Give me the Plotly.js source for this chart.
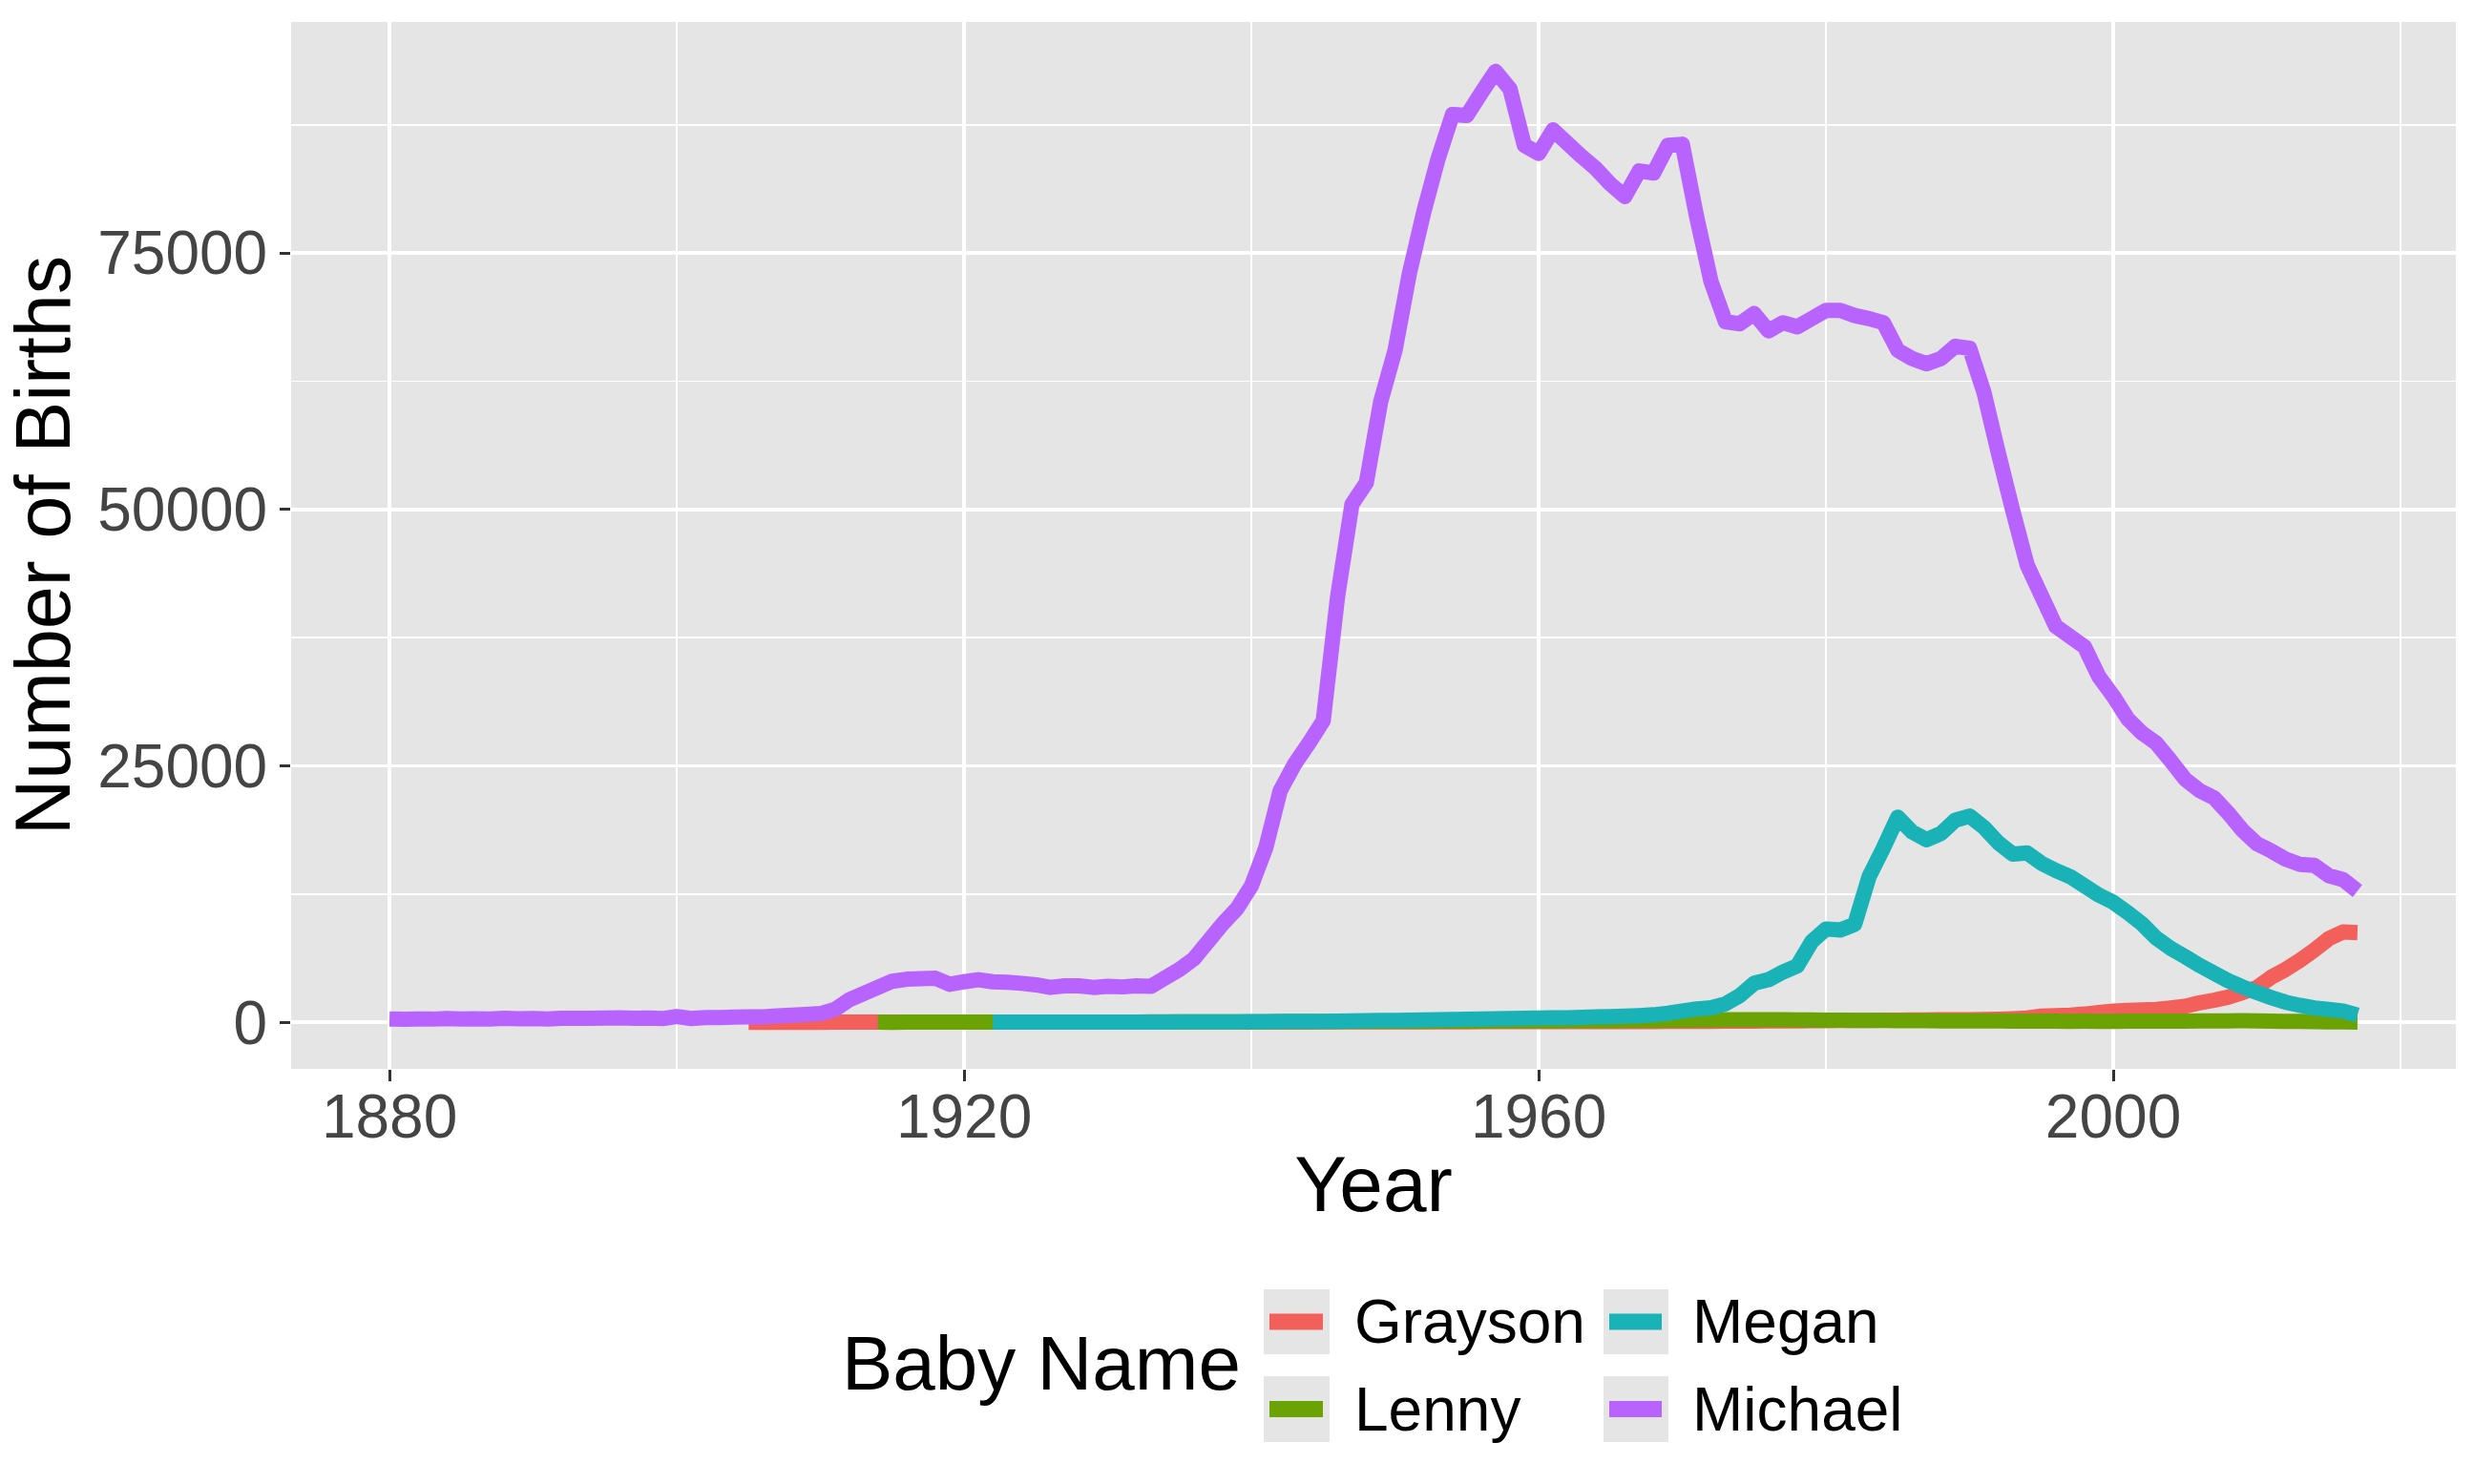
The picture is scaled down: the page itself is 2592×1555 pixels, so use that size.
<!DOCTYPE html>
<html>
<head>
<meta charset="utf-8">
<script src="https://cdn.plot.ly/plotly-3.0.1.min.js"></script>
<style>html,body{margin:0;padding:0;background:#fff;}</style>
</head>
<body>
<div id="chart" style="width:2592px;height:1555px;"></div>
<script>
// ---------------- DATA ----------------
const years = [
1880,1881,1882,1883,1884,1885,1886,1887,1888,1889,
1890,1891,1892,1893,1894,1895,1896,1897,1898,1899,
1900,1901,1902,1903,1904,1905,1906,1907,1908,1909,
1910,1911,1912,1913,1914,1915,1916,1917,1918,1919,
1920,1921,1922,1923,1924,1925,1926,1927,1928,1929,
1930,1931,1932,1933,1934,1935,1936,1937,1938,1939,
1940,1941,1942,1943,1944,1945,1946,1947,1948,1949,
1950,1951,1952,1953,1954,1955,1956,1957,1958,1959,
1960,1961,1962,1963,1964,1965,1966,1967,1968,1969,
1970,1971,1972,1973,1974,1975,1976,1977,1978,1979,
1980,1981,1982,1983,1984,1985,1986,1987,1988,1989,
1990,1991,1992,1993,1994,1995,1996,1997,1998,1999,
2000,2001,2002,2003,2004,2005,2006,2007,2008,2009,
2010,2011,2012,2013,2014,2015,2016,2017];

// Grayson: 1905-2017
const grayson = [
5,5,6,5,7,6,8,8,10,12,12,14,13,15,14,
16,15,18,17,16,18,17,16,15,16,
14,15,13,14,15,16,15,17,18,20,
22,24,28,30,28,31,35,40,38,36,
40,42,45,48,50,53,55,58,55,60,
62,65,60,58,62,60,65,70,75,80,
85,92,95,102,110,118,125,132,140,152,
160,172,180,188,200,212,220,232,240,250,
260,280,300,350,420,600,650,700,800,950,
1100,1150,1200,1250,1400,1560,1900,2150,2450,2900,
3400,4400,5150,6050,7050,8150,8800,8750];

// Lenny: 1914-2017
const lenny = [
8,7,10,9,12,11,
14,15,17,18,20,19,22,24,25,27,
28,30,29,32,34,36,38,41,42,45,
48,50,55,57,60,63,70,78,80,86,
90,96,100,104,110,116,120,124,131,135,
140,146,150,156,160,166,170,181,190,200,
210,222,230,241,250,262,250,240,232,220,
210,200,191,180,170,160,156,150,144,140,
135,130,126,120,115,110,105,100,101,99,
100,104,110,116,120,121,125,130,141,150,
140,121,100,80,61,40,31,25];

// Megan: 1922-2017
const megan = [
10,10,15,11,15,16,20,16,
20,21,25,24,30,31,35,40,45,50,
60,70,80,90,95,100,120,140,150,170,
180,200,230,250,270,290,310,340,360,390,
420,430,440,480,520,560,600,650,730,880,
1100,1300,1420,1800,2600,3800,4150,4900,5500,7850,
9100,9000,9550,14200,17000,20000,18550,17800,18400,19700,
20100,19000,17500,16400,16500,15500,14800,14200,13300,12400,
11700,10700,9600,8200,7200,6400,5550,4800,4050,3450,
2900,2400,1950,1650,1400,1250,1100,700];

// Michael: 1880-2017
const michael = [
330,300,330,310,370,330,350,320,400,350,
370,330,400,380,390,420,430,390,420,360,
560,370,450,460,510,520,530,620,690,760,
850,1250,2200,2800,3400,4000,4200,4250,4300,3700,
3950,4150,3950,3900,3800,3650,3400,3550,3550,3400,
3500,3450,3550,3500,4340,5160,6190,7890,9600,11090,
13300,17000,22550,25150,27200,29400,41500,50500,52600,60500,
65500,73000,79000,84200,88500,88400,90600,92700,91000,85500,
84700,87000,85700,84400,83200,81700,80500,83000,82800,85500,
85600,78500,72200,68300,68100,69100,67400,68200,67800,68600,
69400,69400,68900,68600,68200,65500,64700,64200,64700,65900,
65700,61400,55500,49900,44600,41600,38600,37600,36600,33700,
31800,29600,28200,27200,25500,23700,22600,21900,20400,18700,
17400,16700,15900,15400,15300,14300,13900,12800];

const seriesNames  = ["Grayson", "Lenny", "Megan", "Michael"];
const seriesValues = [grayson, lenny, megan, michael];
const seriesColors = ["#F3605B", "#6BA304", "#19B3B7", "#B963FF"];

const xTickVals = [1880, 1920, 1960, 2000];
const xTickText = ["1880", "1920", "1960", "2000"];
const xMinorVals = [1900, 1940, 1980, 2020];
const yTickVals = [0, 25000, 50000, 75000];
const yTickText = ["0", "25000", "50000", "75000"];
const yMinorVals = [12500, 37500, 62500, 87500];

const xTitle = "Year";
const yTitle = "Number of Births";
const legendTitle = "Baby Name";

// ---------------- LAYOUT CONSTANTS ----------------
const W = 2592, H = 1555;
const M = {l: 305, r: 19, t: 23, b: 435};
const PW = W - M.l - M.r, PH = H - M.t - M.b;
const FONT = "Liberation Sans, Arial, Helvetica, sans-serif";
const px2x = px => (px - M.l) / PW;
const px2y = py => (H - M.b - py) / PH;

// ---------------- TRACES ----------------
const traces = seriesNames.map((name, i) => ({
  type: "scatter",
  mode: "lines",
  name: name,
  x: years.slice(years.length - seriesValues[i].length),
  y: seriesValues[i],
  line: {color: seriesColors[i], width: 16, simplify: false},
  hoverinfo: "x+y+name",
  showlegend: false
}));

// ---------------- CUSTOM LEGEND (ggplot style) ----------------
const shapes = [];
const annotations = [];
const keyCols = [{box0: 1324, box1: 1393, text: 1417}, {box0: 1680, box1: 1748, text: 1771}];
const keyRows = [{y0: 1351, y1: 1419}, {y0: 1442, y1: 1511}];
// ggplot legend order: column-wise
seriesNames.forEach((name, i) => {
  const c = keyCols[Math.floor(i / 2)], r = keyRows[i % 2];
  const yc = (r.y0 + r.y1) / 2;
  shapes.push({type: "rect", xref: "paper", yref: "paper",
    x0: px2x(c.box0), x1: px2x(c.box1), y0: px2y(r.y1), y1: px2y(r.y0),
    fillcolor: "#E5E5E5", line: {width: 0}, layer: "above"});
  shapes.push({type: "line", xref: "paper", yref: "paper",
    x0: px2x(c.box0 + 6), x1: px2x(c.box1 - 7), y0: px2y(yc), y1: px2y(yc),
    line: {color: seriesColors[i], width: 17}, layer: "above"});
  annotations.push({xref: "paper", yref: "paper", x: px2x(c.text), y: px2y(yc),
    xanchor: "left", yanchor: "middle", showarrow: false, text: name,
    font: {family: FONT, size: 64, color: "#000000"}});
});
annotations.push({xref: "paper", yref: "paper", x: px2x(880), y: px2y(1428),
  xanchor: "left", yanchor: "middle", showarrow: false, text: legendTitle,
  font: {family: FONT, size: 80, color: "#000000"}});

const layout = {
  width: W, height: H,
  margin: M,
  paper_bgcolor: "#FFFFFF",
  plot_bgcolor: "#E5E5E5",
  font: {family: FONT, color: "#000000"},
  showlegend: false,
  xaxis: {
    range: [1873.15, 2023.85],
    tickmode: "array", tickvals: xTickVals, ticktext: xTickText,
    ticks: "outside", ticklen: 12, tickwidth: 3, tickcolor: "#333333",
    ticklabelstandoff: -18,
    tickfont: {family: FONT, size: 64, color: "#444444"},
    showgrid: true, gridcolor: "#FFFFFF", gridwidth: 3.5,
    minor: {tickmode: "array", tickvals: xMinorVals, showgrid: true, gridcolor: "#FFFFFF", gridwidth: 1.8, ticks: ""},
    zeroline: false, showline: false,
    title: {text: xTitle, font: {family: FONT, size: 82, color: "#000000"}, standoff: 6}
  },
  yaxis: {
    range: [-4540, 97520],
    tickmode: "array", tickvals: yTickVals, ticktext: yTickText,
    ticks: "outside", ticklen: 11, tickwidth: 3, tickcolor: "#333333",
    tickfont: {family: FONT, size: 64, color: "#444444"},
    showgrid: true, gridcolor: "#FFFFFF", gridwidth: 3.5,
    minor: {tickmode: "array", tickvals: yMinorVals, showgrid: true, gridcolor: "#FFFFFF", gridwidth: 1.8, ticks: ""},
    zeroline: false, showline: false,
    title: {text: yTitle, font: {family: FONT, size: 81, color: "#000000"}, standoff: 22}
  },
  shapes: shapes,
  annotations: annotations
};

Plotly.newPlot("chart", traces, layout, {displayModeBar: false, staticPlot: true}).then(() => {
  document.querySelectorAll(".scatterlayer .js-line").forEach(p => {
    p.style.strokeLinejoin = "round";
  });
});
</script>
</body>
</html>
